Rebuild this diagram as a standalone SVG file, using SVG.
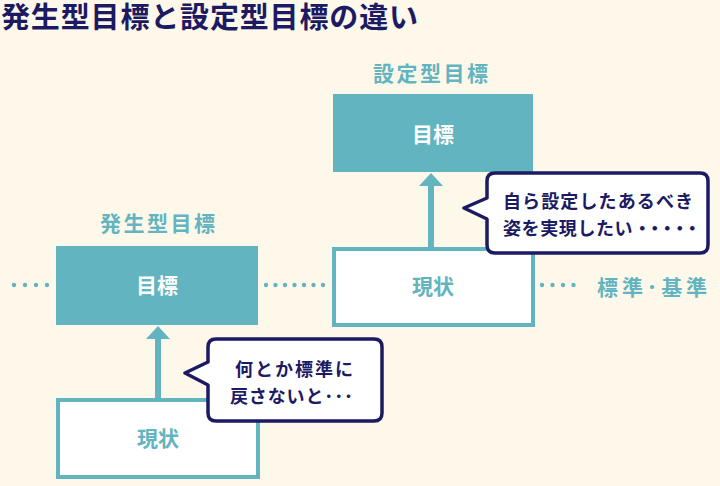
<svg xmlns="http://www.w3.org/2000/svg" width="720" height="486" viewBox="0 0 720 486">
<style>
.jp{font-family:"Noto Sans CJK JP","Noto Sans CJK SC",sans-serif;font-weight:bold}
.title{fill:#1b1a63;font-size:29px}
.lbl{fill:#62b4c0;font-size:21px}
.goal{fill:#62b4c0}
.cur{fill:#fff;stroke:#62b4c0;stroke-width:4}
.wt{fill:#fff;font-size:21px}
.tt{fill:#62b4c0;font-size:21px}
.bub{fill:#fff;stroke:#1b1a63;stroke-width:3.5;stroke-linejoin:round}
.bt{fill:#1b1a63;font-size:18px}
.dot{fill:#62b4c0}
.shaft{stroke:#62b4c0;stroke-width:6}
.head{fill:#62b4c0}
</style>
<rect width="720" height="486" fill="#fdf8e9"/>
<text class="jp title" x="1" y="28" textLength="417" lengthAdjust="spacing">発生型目標と設定型目標の違い</text>

<g id="connectors">
<g id="dots-left">
<circle class="dot" cx="14" cy="285" r="2.2"/><circle class="dot" cx="25" cy="285" r="2.2"/><circle class="dot" cx="36" cy="285" r="2.2"/><circle class="dot" cx="47" cy="285" r="2.2"/>
</g>
<g id="dots-mid">
<circle class="dot" cx="266" cy="285" r="2.2"/><circle class="dot" cx="275.5" cy="285" r="2.2"/><circle class="dot" cx="285" cy="285" r="2.2"/><circle class="dot" cx="294.5" cy="285" r="2.2"/><circle class="dot" cx="304" cy="285" r="2.2"/><circle class="dot" cx="313.5" cy="285" r="2.2"/><circle class="dot" cx="323" cy="285" r="2.2"/>
</g>
<g id="dots-right">
<circle class="dot" cx="542" cy="285" r="2.2"/><circle class="dot" cx="552.5" cy="285" r="2.2"/><circle class="dot" cx="563" cy="285" r="2.2"/><circle class="dot" cx="573.5" cy="285" r="2.2"/>
</g>
<g id="arrow-left">
<line class="shaft" x1="158" y1="337" x2="158" y2="398"/>
<polygon class="head" points="158,326 170,339 146,339"/>
</g>
<g id="arrow-right">
<line class="shaft" x1="431" y1="184" x2="431" y2="248"/>
<polygon class="head" points="431,173 443,186 419,186"/>
</g>
</g>

<g id="label-hassei"><text class="jp lbl" x="100" y="231" textLength="115" lengthAdjust="spacing">発生型目標</text></g>
<g id="label-settei"><text class="jp lbl" x="373" y="81" textLength="115" lengthAdjust="spacing">設定型目標</text></g>

<g id="goal-settei">
<rect class="goal" x="333" y="94" width="200" height="78"/>
<text class="jp wt" x="433" y="142" text-anchor="middle">目標</text>
</g>
<g id="goal-hassei">
<rect class="goal" x="56" y="246" width="202" height="79"/>
<text class="jp wt" x="157" y="293" text-anchor="middle">目標</text>
</g>
<g id="current-settei">
<rect class="cur" x="334" y="249" width="199" height="76"/>
<text class="jp tt" x="433" y="294" text-anchor="middle">現状</text>
</g>
<g id="current-hassei">
<rect class="cur" x="58" y="400" width="200" height="77"/>
<text class="jp tt" x="158" y="446" text-anchor="middle">現状</text>
</g>

<g id="standard-label"><text class="jp lbl" x="597" y="295" textLength="110" lengthAdjust="spacing">標準･基準</text></g>

<g id="bubble-settei">
<path class="bub" d="M495,173 H700 Q708,173 708,181 V245 Q708,253 700,253 H495 Q487,253 487,245 V219 L464,208 L487,198 V181 Q487,173 495,173 Z"/>
<text class="jp bt" x="503" y="208" textLength="190" lengthAdjust="spacing">自ら設定したあるべき</text>
<text class="jp bt" x="503" y="235"><tspan letter-spacing="0.6">姿を実現したい</tspan><tspan letter-spacing="-5.5">・・・・・</tspan></text>
</g>
<g id="bubble-hassei">
<path class="bub" d="M216,339 H374 Q382,339 382,347 V413 Q382,421 374,421 H216 Q208,421 208,413 V385 L185,373 L208,362 V347 Q208,339 216,339 Z"/>
<text class="jp bt" x="235" y="376" textLength="118" lengthAdjust="spacing">何とか標準に</text>
<text class="jp bt" x="230" y="403" textLength="123" lengthAdjust="spacing">戻さないと･･･</text>
</g>
</svg>
